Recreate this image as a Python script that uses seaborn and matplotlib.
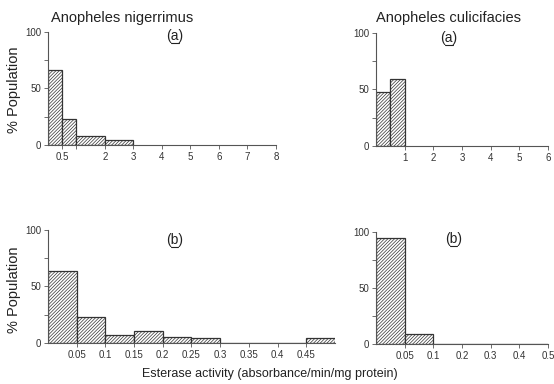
import numpy as np
import matplotlib
matplotlib.use("Agg")
import matplotlib.pyplot as plt
from matplotlib.lines import Line2D
from matplotlib.transforms import ScaledTranslation
import seaborn as sns

sns.set_theme(style="ticks")
plt.rcParams['font.family'] = ['Liberation Sans', 'DejaVu Sans']
plt.rcParams['hatch.color'] = '#666666'
plt.rcParams['hatch.linewidth'] = 0.5

# dados (% da populacao por faixa de atividade)
edges_nig_a = [0, 0.5, 1, 2, 3]
vals_nig_a = [66, 23, 8, 4]
ticks_nig_a = [0.5, 1, 2, 3, 4, 5, 6, 7, 8]
labels_nig_a = ['0.5', '', '2', '3', '4', '5', '6', '7', '8']

edges_cul_a = [0, 0.5, 1]
vals_cul_a = [48, 59]
ticks_cul_a = [1, 2, 3, 4, 5, 6]

edges_nig_b = [0, 0.05, 0.1, 0.15, 0.2, 0.25, 0.3, 0.35, 0.4, 0.45, 0.5]
vals_nig_b = [64, 23, 7, 11, 5, 4, 0, 0, 0, 4]
ticks_nig_b = [0.05, 0.1, 0.15, 0.2, 0.25, 0.3, 0.35, 0.4, 0.45]

# painel (b) de culicifacies usa escala ordinal nas faixas
edges_cul_b = [0, 0.05, 0.1, 0.2, 0.3, 0.4, 0.5]
vals_cul_b = [95, 9, 0, 0, 0, 0]

fig = plt.figure(figsize=(5.54, 3.84), dpi=100)

def painel(rect, edges, vals, xlim):
    ax = fig.add_axes(rect)
    mids = [(edges[i] + edges[i + 1]) / 2 for i in range(len(vals))]
    sns.histplot(x=mids, weights=vals, bins=edges, ax=ax, stat='count',
                 color='white', edgecolor='#333333', linewidth=0.9,
                 hatch='//////////', alpha=1)
    ax.set_xlim(*xlim)
    ax.set_ylim(0, 100)
    ax.set_yticks([0, 50, 100])
    ax.set_yticks([25, 75], minor=True)
    ax.set_ylabel('')
    sns.despine(ax=ax)
    for s in ['left', 'bottom']:
        ax.spines[s].set_color('#555555')
        ax.spines[s].set_linewidth(0.8)
    ax.tick_params(axis='both', which='both', labelsize=7, length=3,
                   width=0.6, color='#555555', pad=2, labelcolor='#333333')
    return ax

def rotulo(ax, x, y, letra):
    # letra sublinhada como no original
    ax.text(x, y, f'({letra})', transform=ax.transAxes, ha='center',
            va='baseline', fontsize=10, color='#222222')
    # traco curto (em pontos) logo abaixo da letra
    base = ax.transAxes + ScaledTranslation(0, -2.2 / 72, fig.dpi_scale_trans)
    meia = 2.6 / 72
    esq = ax.transAxes + ScaledTranslation(-meia, -2.2 / 72, fig.dpi_scale_trans)
    dir_ = ax.transAxes + ScaledTranslation(meia, -2.2 / 72, fig.dpi_scale_trans)
    p0 = esq.transform((x, y))
    p1 = dir_.transform((x, y))
    fig.add_artist(Line2D([p0[0], p1[0]], [p0[1], p1[1]], transform=None,
                          color='#222222', linewidth=0.8))

ax1 = painel([0.0866, 0.6224, 0.4116, 0.2943], edges_nig_a, vals_nig_a, (0, 8))
ax1.set_xticks(ticks_nig_a)
ax1.set_xticklabels(labels_nig_a)

ax2 = painel([0.6787, 0.6198, 0.3105, 0.2943], edges_cul_a, vals_cul_a, (0, 6))
ax2.set_xticks(ticks_cul_a)
ax2.set_xticklabels([str(t) for t in ticks_cul_a])

ax3 = painel([0.0866, 0.1068, 0.518, 0.2943], edges_nig_b, vals_nig_b, (0, 0.5))
ax3.set_xticks(ticks_nig_b)
ax3.set_xticklabels([f'{t:g}' for t in ticks_nig_b])

pos_cul_b = list(range(len(edges_cul_b)))
ax4 = painel([0.6787, 0.1042, 0.3105, 0.2917], pos_cul_b, vals_cul_b,
             (0, len(edges_cul_b) - 1))
ax4.set_xticks(pos_cul_b[1:])
ax4.set_xticklabels([f'{e:g}' for e in edges_cul_b[1:]])

rotulo(ax1, 0.557, 0.93, 'a')
rotulo(ax2, 0.424, 0.92, 'a')
rotulo(ax3, 0.44, 0.88, 'b')
rotulo(ax4, 0.45, 0.90, 'b')

fig.text(51 / 554, 1 - 18 / 384, 'Anopheles nigerrimus', ha='left', va='center', fontsize=10.5, color='#222222')
fig.text(449 / 554, 1 - 18 / 384, 'Anopheles culicifacies', ha='center', va='center', fontsize=10.5, color='#222222')
fig.text(14 / 554, 1 - 90 / 384, '% Population', rotation=90, ha='center', va='center', fontsize=10.5, color='#222222')
fig.text(14 / 554, 1 - 290 / 384, '% Population', rotation=90, ha='center', va='center', fontsize=10.5, color='#222222')
fig.text(270 / 554, 1 - 374 / 384, 'Esterase activity (absorbance/min/mg protein)', ha='center', va='center', fontsize=9, color='#222222')

fig.savefig('out.png', dpi=100)
